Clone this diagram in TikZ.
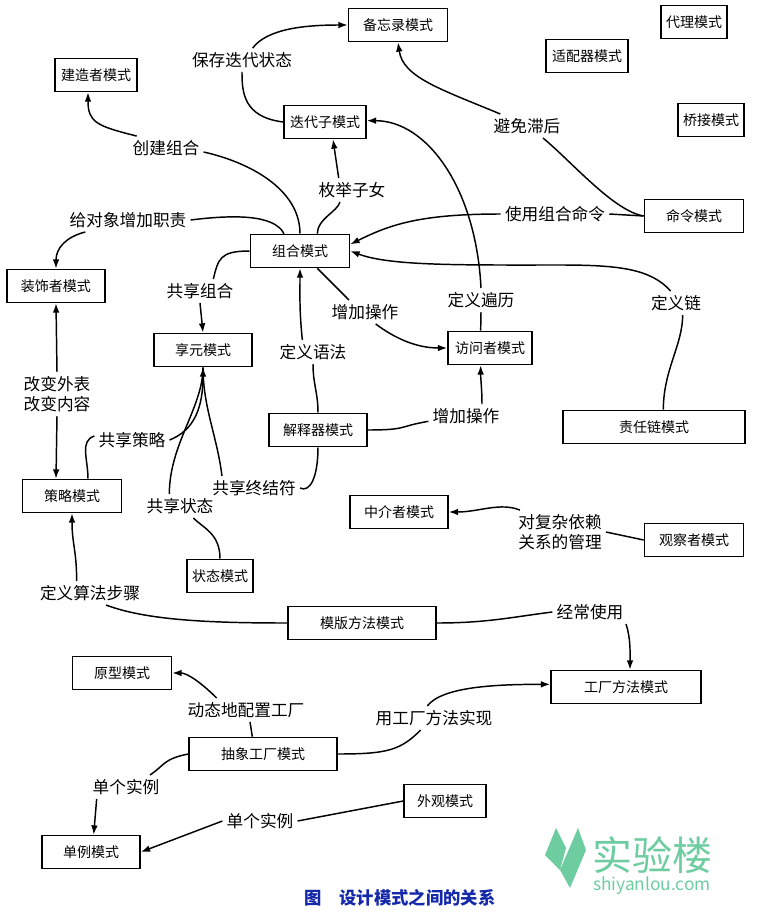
\documentclass[tikz,border=0pt]{standalone}
\usepackage{fontspec}
\setmainfont{Noto Sans CJK SC}
\usetikzlibrary{arrows.meta}
\definecolor{capblue}{RGB}{20,40,170}
\definecolor{wm}{RGB}{110,205,160}
\tikzset{
  box/.style={draw,line width=1.2pt,minimum height=24.75pt,inner sep=1pt,font=\fontsize{10.5}{12}\selectfont},
  lbl/.style={inner sep=3pt,font=\fontsize{12.5}{15}\selectfont,align=center},
  con/.style={line width=1.1pt},
  arr/.style={con,-{Latex[length=7pt,width=5pt]}}
}
\begin{document}
\begin{tikzpicture}[x=0.75pt,y=-0.75pt]
\useasboundingbox (0,0) rectangle (761,914);
% boxes
\node[box,minimum width=74.25pt] (mem) at (398,25) {备忘录模式};
\node[box,minimum width=49.5pt] (proxy) at (694,22) {代理模式};
\node[box,minimum width=61.5pt] (adapt) at (587,56) {适配器模式};
\node[box,minimum width=49.5pt] (bridge) at (711,120) {桥接模式};
\node[box,minimum width=74.25pt] (cmd) at (694,216) {命令模式};
\node[box,minimum width=61.5pt] (build) at (96,75) {建造者模式};
\node[box,minimum width=61.5pt] (iter) at (325,122) {迭代子模式};
\node[box,minimum width=74.25pt] (comp) at (300,251) {组合模式};
\node[box,minimum width=73.5pt] (deco) at (56,286) {装饰者模式};
\node[box,minimum width=73.5pt] (flyw) at (203,350) {享元模式};
\node[box,minimum width=73.5pt] (interp) at (318,430) {解释器模式};
\node[box,minimum width=63pt] (vis) at (490,348) {访问者模式};
\node[box,minimum width=136.5pt] (chain) at (654,427) {责任链模式};
\node[box,minimum width=74.25pt] (strat) at (72,496) {策略模式};
\node[box,minimum width=49.5pt] (state) at (220,576) {状态模式};
\node[box,minimum width=73.5pt] (medi) at (399,512) {中介者模式};
\node[box,minimum width=74.25pt] (obs) at (694,540) {观察者模式};
\node[box,minimum width=111pt] (templ) at (362,623) {模版方法模式};
\node[box,minimum width=74.25pt] (proto) at (122,673) {原型模式};
\node[box,minimum width=112.5pt] (fact) at (626,687) {工厂方法模式};
\node[box,minimum width=111pt] (abs) at (263,754) {抽象工厂模式};
\node[box,minimum width=61.5pt] (facade) at (445,801) {外观模式};
\node[box,minimum width=73.5pt] (single) at (91,852) {单例模式};
% labels
\node[lbl] (l1) at (242,60) {保存迭代状态};
\node[lbl] (l2) at (527,126) {避免滞后};
\node[lbl] (l3) at (166,148) {创建组合};
\node[lbl] (l4) at (352,190) {枚举子女};
\node[lbl] (l5) at (128,220) {给对象增加职责};
\node[lbl] (l7) at (555,214) {使用组合命令};
\node[lbl] (l9) at (200,291) {共享组合};
\node[lbl] (l10) at (365,312) {增加操作};
\node[lbl] (l6) at (481,300) {定义遍历};
\node[lbl] (l8) at (676,303) {定义链};
\node[lbl] (l11) at (313,352) {定义语法};
\node[lbl] (l13) at (57,394) {改变外表\\改变内容};
\node[lbl] (l12) at (466,416) {增加操作};
\node[lbl] (l14) at (132,440) {共享策略};
\node[lbl] (l16) at (254,488) {共享终结符};
\node[lbl] (l15) at (180,506) {共享状态};
\node[lbl] (l17) at (560,532) {对复杂依赖\\关系的管理};
\node[lbl] (l18) at (90,593) {定义算法步骤};
\node[lbl] (l19) at (590,612) {经常使用};
\node[lbl] (l20) at (246,710) {动态地配置工厂};
\node[lbl] (l21) at (434,718) {用工厂方法实现};
\node[lbl] (l22) at (126,787) {单个实例};
\node[lbl] (l23) at (260,821) {单个实例};
% connectors
\draw[con] (iter.west) .. controls +(-40,-5) and +(0,20) .. (l1.south);
\draw[arr] ([xshift=8pt]l1.north) .. controls +(15,-20) and +(-40,0) .. (mem.west);
\draw[con] (cmd.west) .. controls +(-30,-5) and +(30,25) .. ([xshift=12pt]l2.south);
\draw[arr] ([xshift=-20pt]l2.north) .. controls +(-60,-25) and +(5,35) .. (mem.south);
\draw[con] (comp.north) .. controls +(0,-45) and +(45,10) .. ([yshift=-3pt]l3.east);
\draw[arr] ([xshift=-22pt]l3.north) .. controls +(-40,-10) and +(0,30) .. ([xshift=-6pt]build.south);
\draw[con] ([xshift=13pt]comp.north) .. controls +(0,-15) and +(-3,10) .. ([xshift=-9pt]l4.south);
\draw[arr] ([xshift=-10pt]l4.north) -- ([xshift=6pt]iter.south);
\draw[con] ([xshift=-12pt]comp.north) .. controls +(-10,-20) and +(40,-5) .. (l5.east);
\draw[arr] ([xshift=-32pt]l5.south) .. controls +(-20,5) and +(0,-20) .. (deco.north);
\draw[con] ([xshift=-7pt]vis.north) -- (l6.south);
\draw[arr] (l6.north) .. controls +(-5,-100) and +(60,0) .. ([yshift=1pt]iter.east);
\draw[con] (cmd.west) -- (l7.east);
\draw[arr] (l7.west) .. controls +(-80,0) and +(40,-20) .. ([yshift=5pt]comp.east);
\draw[con] ([xshift=7pt]chain.north) .. controls +(0,-40) and +(0,30) .. ([xshift=5pt]l8.south);
\draw[arr] ([xshift=-4pt]l8.north) .. controls +(-20,-22) and +(60,0) .. (560,265) .. controls +(-100,0) and +(40,15) .. (comp.east);
\draw[con] (comp.west) .. controls +(-30,0) and +(5,-20) .. ([xshift=10pt]l9.north);
\draw[arr] (l9.south) -- (flyw.north);
\draw[con] ([xshift=13pt]comp.south) -- ([xshift=-12pt]l10.north);
\draw[arr] ([xshift=8pt]l10.south) .. controls +(20,15) and +(-30,0) .. (vis.west);
\draw[con] (interp.north) .. controls +(0,-20) and +(0,20) .. (l11.south);
\draw[arr] ([xshift=-8pt]l11.north) .. controls +(-3,-30) and +(0,30) .. (comp.south);
\draw[con] (interp.east) .. controls +(40,0) and +(-30,5) .. ([yshift=-4pt]l12.west);
\draw[arr] ([xshift=12pt]l12.north) .. controls +(0,-15) and +(0,15) .. ([xshift=-7pt]vis.south);
\draw[arr] (l13.north) -- (deco.south);
\draw[arr] (l13.south) -- ([xshift=-12pt]strat.north);
\draw[con] ([xshift=12pt]strat.north) .. controls +(0,-20) and +(-15,5) .. ([yshift=3pt]l14.west);
\draw[arr] (l14.east) .. controls +(25,-10) and +(0,40) .. (flyw.south);
\draw[con] (state.north) .. controls +(0,-25) and +(10,10) .. ([xshift=10pt]l15.south);
\draw[con] ([xshift=-8pt]l15.north) .. controls +(0,-50) and +(0,40) .. (flyw.south);
\draw[con] (interp.south) .. controls +(0,30) and +(10,5) .. (l16.east);
\draw[con] ([xshift=-24pt]l16.north) .. controls +(-5,-40) and +(0,40) .. (flyw.south);
\draw[con] (obs.west) -- (l17.east);
\draw[arr] ([xshift=-30pt]l17.north) .. controls +(-20,-8) and +(30,0) .. (medi.east);
\draw[con] (templ.west) .. controls +(-80,0) and +(40,15) .. ([xshift=12pt]l18.south);
\draw[arr] ([xshift=-10pt]l18.north) .. controls +(0,-30) and +(0,30) .. (strat.south);
\draw[con] (templ.east) .. controls +(50,0) and +(-40,5) .. (l19.west);
\draw[arr] ([xshift=27pt]l19.south) .. controls +(5,15) and +(0,-15) .. ([xshift=3pt]fact.north);
\draw[con] ([xshift=-8pt]abs.north) -- ([xshift=3pt]l20.south);
\draw[arr] ([xshift=-22pt]l20.north) .. controls +(-15,-15) and +(15,0) .. (proto.east);
\draw[con] (abs.east) .. controls +(50,0) and +(-20,20) .. ([xshift=-10pt]l21.south);
\draw[arr] ([xshift=-5pt]l21.north) .. controls +(15,-20) and +(-50,0) .. ([yshift=2pt]fact.west);
\draw[con] (abs.west) .. controls +(-25,5) and +(15,-10) .. ([xshift=18pt]l22.north);
\draw[arr] ([xshift=-22pt]l22.south) -- ([xshift=2pt]single.north);
\draw[con] (facade.west) -- (l23.east);
\draw[arr] (l23.west) -- (single.east);
% caption
\node[font=\fontsize{13}{15}\selectfont\bfseries,text=capblue] (cap) at (400,898) {图\quad 设计模式之间的关系};
% watermark
\fill[wm] (578,828) -- (560,870) -- (570,888) -- (586,850) -- cycle;
\fill[wm] (560,870) -- (545,855) -- (556,828) -- (566,848) -- cycle;
\node[text=wm,font=\fontsize{30}{32}\selectfont] (wm1) at (652,855) {实验楼};
\node[text=wm,font=\fontsize{13}{15}\selectfont] (wm2) at (652,886) {shiyanlou.com};
\end{tikzpicture}
\end{document}
